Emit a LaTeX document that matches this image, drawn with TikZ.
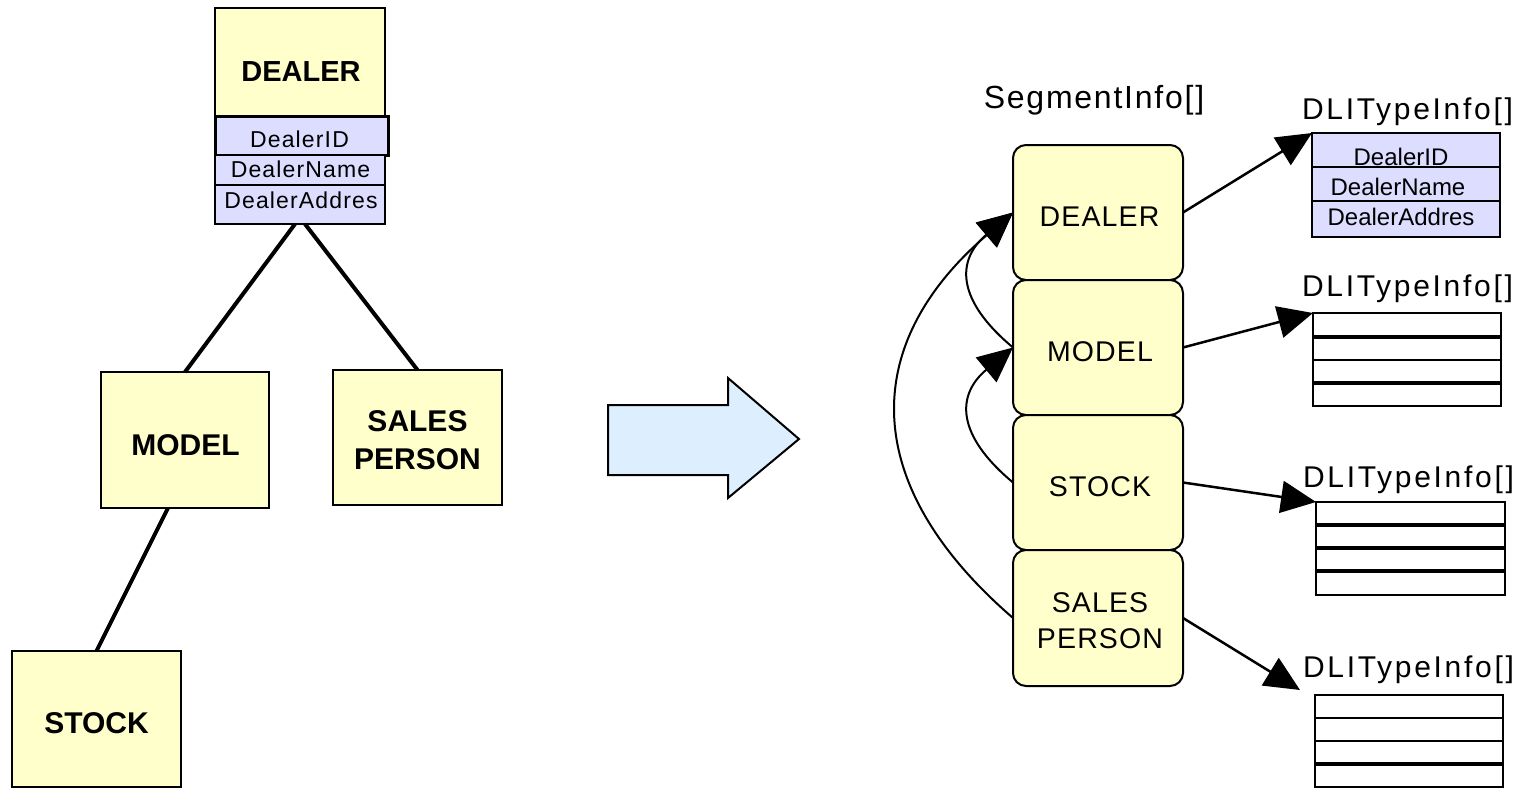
\documentclass[tikz,border=0pt]{standalone}
\usepackage{fontspec}
\setmainfont{Liberation Sans}
\newfontfamily\dgFamFieldL[LetterSpace=5]{Liberation Sans}
\newfontfamily\dgFamBox[LetterSpace=4]{Liberation Sans}
\newfontfamily\dgFamLabel[LetterSpace=9]{Liberation Sans}
\newfontfamily\dgFamSeg[LetterSpace=5.5]{Liberation Sans}
\usetikzlibrary{arrows.meta}

\definecolor{segyellow}{HTML}{FFFFCC}
\definecolor{fieldblue}{HTML}{DDDDFF}
\definecolor{arrowblue}{HTML}{DDEEFF}

% font sizes used by the two halves of the drawing
\newcommand\dgTreeA{\bfseries\fontsize{29}{34}\selectfont}
\newcommand\dgTree{\bfseries\fontsize{30}{38.3}\selectfont}
\newcommand\dgFieldL{\dgFamFieldL\fontsize{23}{26}\selectfont}
\newcommand\dgFieldR{\fontsize{24}{28}\selectfont}
\newcommand\dgSegBox{\dgFamBox\fontsize{28.5}{36}\selectfont}
\newcommand\dgLabel{\dgFamLabel\fontsize{30}{34}\selectfont}
\newcommand\dgSegTitle{\dgFamSeg\fontsize{32}{38}\selectfont}

\tikzset{
  entity/.style={draw=black, line width=2pt, fill=segyellow, inner sep=0pt, outer sep=0pt},
  field/.style={draw=black, line width=2pt, fill=fieldblue, inner sep=0pt, outer sep=0pt},
  segbox/.style={entity, rounded corners=13pt, minimum width=170pt},
  table/.style={draw=black, line width=2pt, fill=white, inner sep=0pt, outer sep=0pt},
  txt/.style={anchor=base, inner sep=0pt, outer sep=0pt},
  ctxt/.style={anchor=center, inner sep=0pt, outer sep=0pt, align=center},
  treeline/.style={line width=4pt},
  link/.style={line width=2.5pt, -{Triangle[length=35pt,width=32pt]}},
  backlink/.style={line width=2pt, -{Triangle[length=35pt,width=32pt]}},
  bigarrow/.style={fill=arrowblue, draw=black, line width=2pt, line join=miter}
}

\begin{document}
\begin{tikzpicture}[x=1pt, y=-1pt]
\useasboundingbox (0,0) rectangle (1519,788);

% ---------------- hierarchy (left) ----------------
\node[entity, minimum width=170pt, minimum height=108pt] (dealerL) at (300,62) {};
\node[txt, font=\dgTreeA] (dealerLt) at (301,81.7) {DEALER};

\node[field, line width=3pt, minimum width=173pt, minimum height=39pt] (fidL) at (301.5,135.5) {};
\node[field, minimum width=170pt, minimum height=30pt] (fnameL) at (300,170) {};
\node[field, minimum width=170pt, minimum height=39pt] (faddrL) at (300,204.5) {};
\node[txt, font=\dgFieldL] (fidLt) at (299.5,147.5) {DealerID};
\node[txt, font=\dgFieldL] (fnameLt) at (300.5,177.5) {DealerName};
\node[txt, font=\dgFieldL] (faddrLt) at (301,208.5) {DealerAddres};

\node[entity, minimum width=168pt, minimum height=136pt] (modelL) at (185,440) {};
\node[txt, font=\dgTree] (modelLt) at (185.5,455) {MODEL};

\node[entity, minimum width=169pt, minimum height=135pt] (salesL) at (417.5,437.5) {};
\node[ctxt, font=\dgTree] (salesLt) at (417.5,440.5) {SALES\\PERSON};

\node[entity, minimum width=169pt, minimum height=136pt] (stockL) at (96.5,719) {};
\node[txt, font=\dgTree] (stockLt) at (96.5,733.5) {STOCK};

\draw[treeline] ([xshift=-5pt]faddrL.south) -- (modelL.north);
\draw[treeline] ([xshift=5pt]faddrL.south) -- (salesL.north);
\draw[treeline] ([xshift=-17pt]modelL.south) -- (stockL.north);

% ---------------- transformation arrow ----------------
\filldraw[bigarrow] (608,405) -- (728,405) -- (728,378) -- (799,439)
  -- (728,498) -- (728,475) -- (608,475) -- cycle;

% ---------------- segment array (right) ----------------
\node[txt, font=\dgSegTitle] (segtitle) at (1094,108.5) {SegmentInfo[]};

\node[segbox, minimum height=135pt] (dealerR) at (1098,212.5) {};
\node[segbox, minimum height=135pt] (modelR) at (1098,347.5) {};
\node[segbox, minimum height=135pt] (stockR) at (1098,482.5) {};
\node[segbox, minimum height=136pt] (salesR) at (1098,618) {};
\node[txt, font=\dgSegBox] (dealerRt) at (1099.5,226.7) {DEALER};
\node[txt, font=\dgSegBox] (modelRt) at (1100,361.7) {MODEL};
\node[txt, font=\dgSegBox] (stockRt) at (1100,496.7) {STOCK};
\node[ctxt, font=\dgSegBox] (salesRt) at (1100,620.5) {SALES\\PERSON};

% type-info arrays
\node[txt, font=\dgLabel] (lab1) at (1407.5,119) {DLITypeInfo[]};
\node[field, minimum width=188pt, minimum height=34pt] (t1a) at (1406,150) {};
\node[field, minimum width=188pt, minimum height=34pt] (t1b) at (1406,184) {};
\node[field, minimum width=188pt, minimum height=36pt] (t1c) at (1406,219) {};
\node[txt, font=\dgFieldR] (t1at) at (1401,165) {DealerID};
\node[txt, font=\dgFieldR] (t1bt) at (1398,195) {DealerName};
\node[txt, font=\dgFieldR] (t1ct) at (1401,225.5) {DealerAddres};

\node[txt, font=\dgLabel] (lab2) at (1407.5,296) {DLITypeInfo[]};
\node[table, minimum width=188pt, minimum height=93pt] (t2) at (1407,359.5) {};
\draw[line width=3.5pt] (1313,337) -- (1501,337);
\draw[line width=2pt] (1313,360) -- (1501,360);
\draw[line width=3.5pt] (1313,383) -- (1501,383);

\node[txt, font=\dgLabel] (lab3) at (1408.5,487.5) {DLITypeInfo[]};
\node[table, minimum width=189pt, minimum height=93pt] (t3) at (1410.5,548.5) {};
\draw[line width=3.5pt] (1316,525) -- (1505,525);
\draw[line width=3.5pt] (1316,548) -- (1505,548);
\draw[line width=3.5pt] (1316,571) -- (1505,571);

\node[txt, font=\dgLabel] (lab4) at (1408.5,677) {DLITypeInfo[]};
\node[table, minimum width=188pt, minimum height=92pt] (t4) at (1409,741) {};
\draw[line width=2.5pt] (1315,718) -- (1503,718);
\draw[line width=2.5pt] (1315,741) -- (1503,741);
\draw[line width=3.5pt] (1315,764) -- (1503,764);

% links from segments to their type-info arrays
\coordinate (t4tip) at (1300,690);
\draw[link] (dealerR.east) -- (t1a.north west);
\draw[link] (modelR.east) -- (t2.north west);
\draw[link] (stockR.east) -- (t3.north west);
\draw[link] (salesR.east) -- (t4tip);

% parent links
\draw[backlink] (modelR.west) .. controls (956,300) and (956,260) .. (dealerR.west);
\draw[backlink] (stockR.west) .. controls (956,435) and (956,395) .. (modelR.west);
\draw[backlink] (salesR.west) .. controls (859,485) and (859,345) .. (dealerR.west);
\end{tikzpicture}
\end{document}
